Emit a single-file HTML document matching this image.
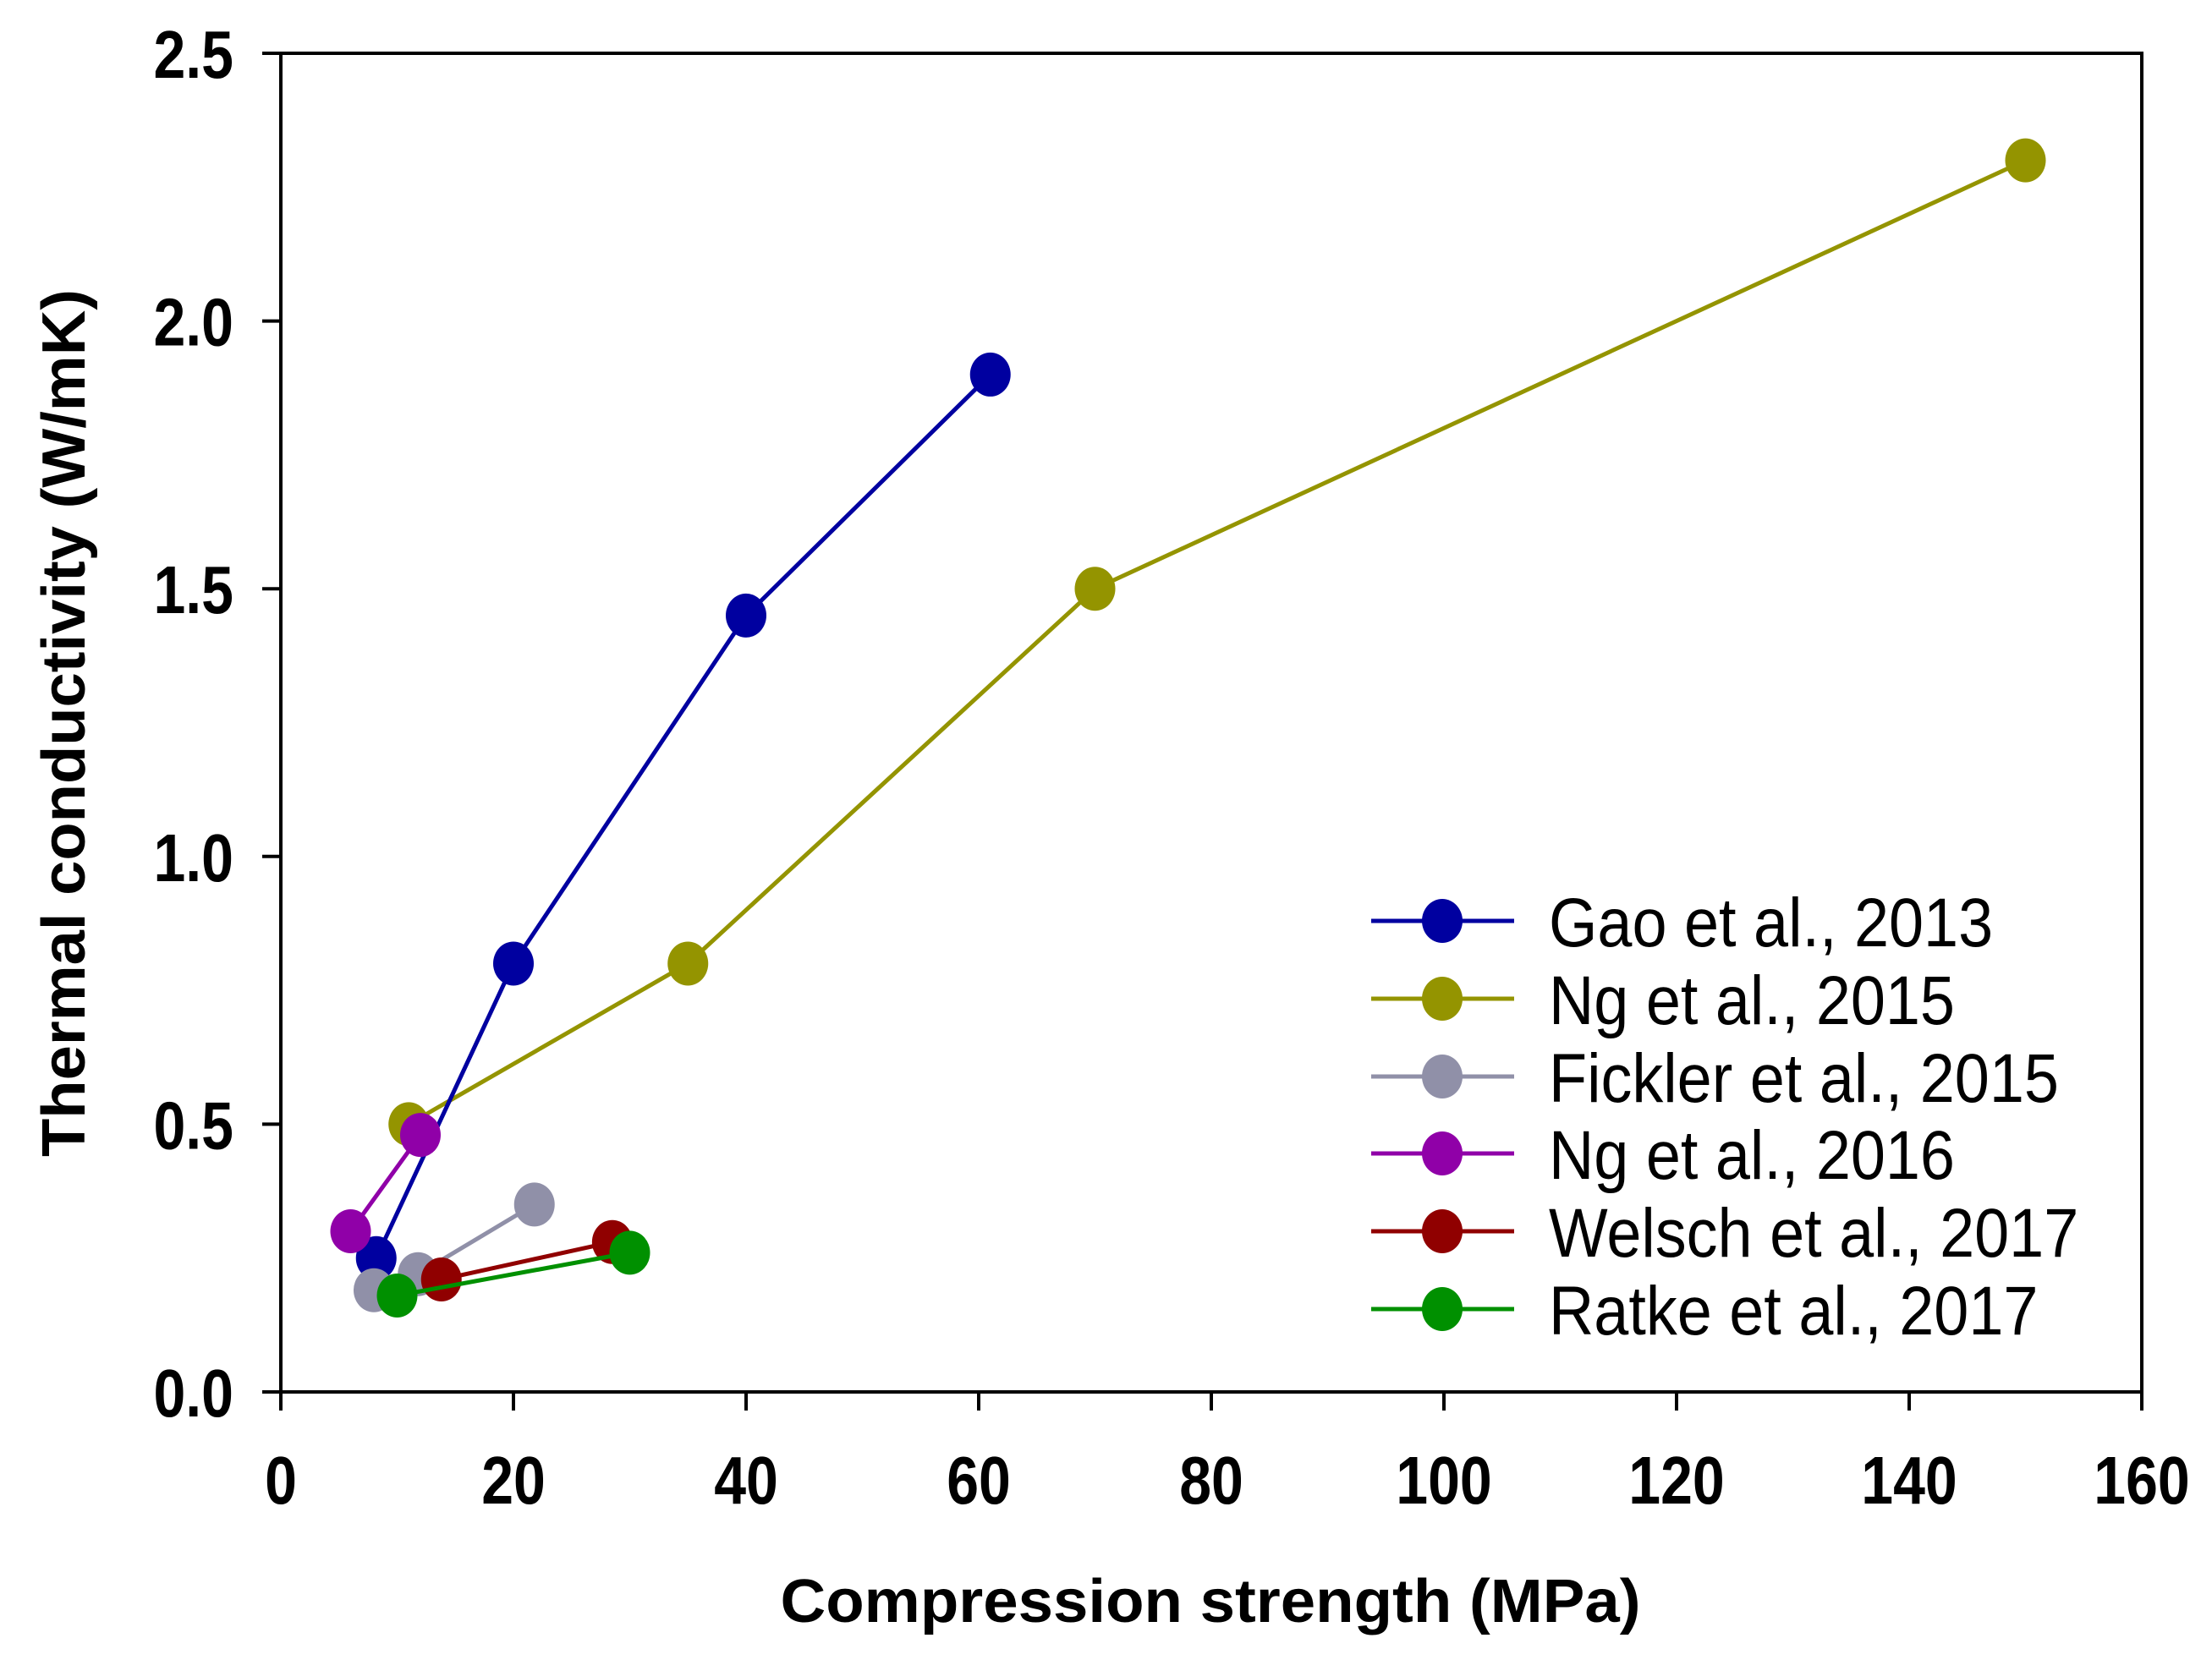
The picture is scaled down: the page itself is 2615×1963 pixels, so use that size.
<!DOCTYPE html>
<html><head><meta charset="utf-8"><style>
html,body{margin:0;padding:0;background:#fff;}
svg{display:block;font-family:"Liberation Sans",Arial,sans-serif;}
</style></head><body>
<svg id="chart" width="2615" height="1963" viewBox="0 0 2615 1963">
<rect x="0" y="0" width="2615" height="1963" fill="#fff"/>
<g id="plot"></g>
</svg>
<script>
const seriesNames = ["Gao et al., 2013","Ng et al., 2015","Fickler et al., 2015","Ng et al., 2016","Welsch et al., 2017","Ratke et al., 2017"];
const seriesColors = ["#0000a0","#949400","#9090a8","#9000a8","#900000","#009000"];
const gaoX = [8.2,20,40,61];        const gaoY = [0.25,0.8,1.45,1.9];
const ng15X = [11,35,70,150];       const ng15Y = [0.5,0.8,1.5,2.3];
const ficklerX = [8,11.8,21.8];     const ficklerY = [0.19,0.22,0.35];
const ng16X = [6,12];               const ng16Y = [0.3,0.48];
const welschX = [13.8,28.5];        const welschY = [0.21,0.28];
const ratkeX = [10,30];             const ratkeY = [0.18,0.26];
const xTicks = [0,20,40,60,80,100,120,140,160];
const yTicks = [0,0.5,1.0,1.5,2.0,2.5];
const yTickLabels = ["0.0","0.5","1.0","1.5","2.0","2.5"];

const NS="http://www.w3.org/2000/svg";
const L=332,R=2532,T=63,B=1646;
const xMin=0,xMax=160,yMin=0,yMax=2.5;
function sx(v){return L+(v-xMin)/(xMax-xMin)*(R-L);}
function sy(v){return B-(v-yMin)/(yMax-yMin)*(B-T);}
const g=document.getElementById('plot');
function mk(tag,attrs,parent){const e=document.createElementNS(NS,tag);for(const k in attrs)e.setAttribute(k,attrs[k]);(parent||g).appendChild(e);return e;}

const frame=mk('rect',{x:L,y:T,width:R-L,height:B-T,fill:'none',stroke:'#000','stroke-width':4});



xTicks.forEach((v,i)=>{
  const t=mk('line',{x1:sx(v),x2:sx(v),y1:B,y2:B+22,stroke:'#000','stroke-width':4});
  
  
  const lb=mk('text',{x:0,y:0,'font-size':80,'font-weight':'bold','text-anchor':'middle',fill:'#000',transform:'translate('+sx(v)+',1778) scale(0.85,1)'});
  lb.textContent=String(v);
  
  
});
yTicks.forEach((v,i)=>{
  const t=mk('line',{x1:L-22,x2:L,y1:sy(v),y2:sy(v),stroke:'#000','stroke-width':4});
  
  
  const lb=mk('text',{x:0,y:0,'font-size':80,'font-weight':'bold','text-anchor':'end',fill:'#000',transform:'translate(276,'+(sy(v)+29)+') scale(0.85,1)'});
  lb.textContent=yTickLabels[i];
  
  
});

const xt=mk('text',{x:1431,y:1918,'font-size':72,'font-weight':'bold','text-anchor':'middle',textLength:1017,lengthAdjust:'spacingAndGlyphs'});
xt.textContent='Compression strength (MPa)';


const yt=mk('text',{x:0,y:0,'font-size':72,'font-weight':'bold','text-anchor':'middle',textLength:1026,lengthAdjust:'spacingAndGlyphs',transform:'translate(100,855) rotate(-90)'});
yt.textContent='Thermal conductivity (W/mK)';



const allX=[gaoX,ng15X,ficklerX,ng16X,welschX,ratkeX];
const allY=[gaoY,ng15Y,ficklerY,ng16Y,welschY,ratkeY];
const order=[1,0,2,3,4,5];
order.forEach(s=>{
  const sg=mk('g',{});
  
  
  const pts=allX[s].map((x,i)=>sx(x)+','+sy(allY[s][i])).join(' ');
  const pl=mk('polyline',{points:pts,fill:'none',stroke:seriesColors[s],'stroke-width':5},sg);
  
  
  allX[s].forEach((x,i)=>{
    const c=mk('ellipse',{cx:sx(x),cy:sy(allY[s][i]),rx:24,ry:26,fill:seriesColors[s]},sg);
    
    
  });
});

const rowsY=[1089,1181,1273,1364,1456,1548];
seriesNames.forEach((n,i)=>{
  const lg=mk('g',{});
  
  
  const ln=mk('line',{x1:1621,x2:1790,y1:rowsY[i],y2:rowsY[i],stroke:seriesColors[i],'stroke-width':5},lg);
  
  
  const c=mk('ellipse',{cx:1705,cy:rowsY[i],rx:24,ry:26,fill:seriesColors[i]},lg);
  
  
  const t=mk('text',{x:0,y:0,'font-size':82,fill:'#000',transform:'translate(1831,'+(rowsY[i]+30)+') scale(0.9,1)'},lg);
  t.textContent=n;
  
  
});
</script>
</body></html>
